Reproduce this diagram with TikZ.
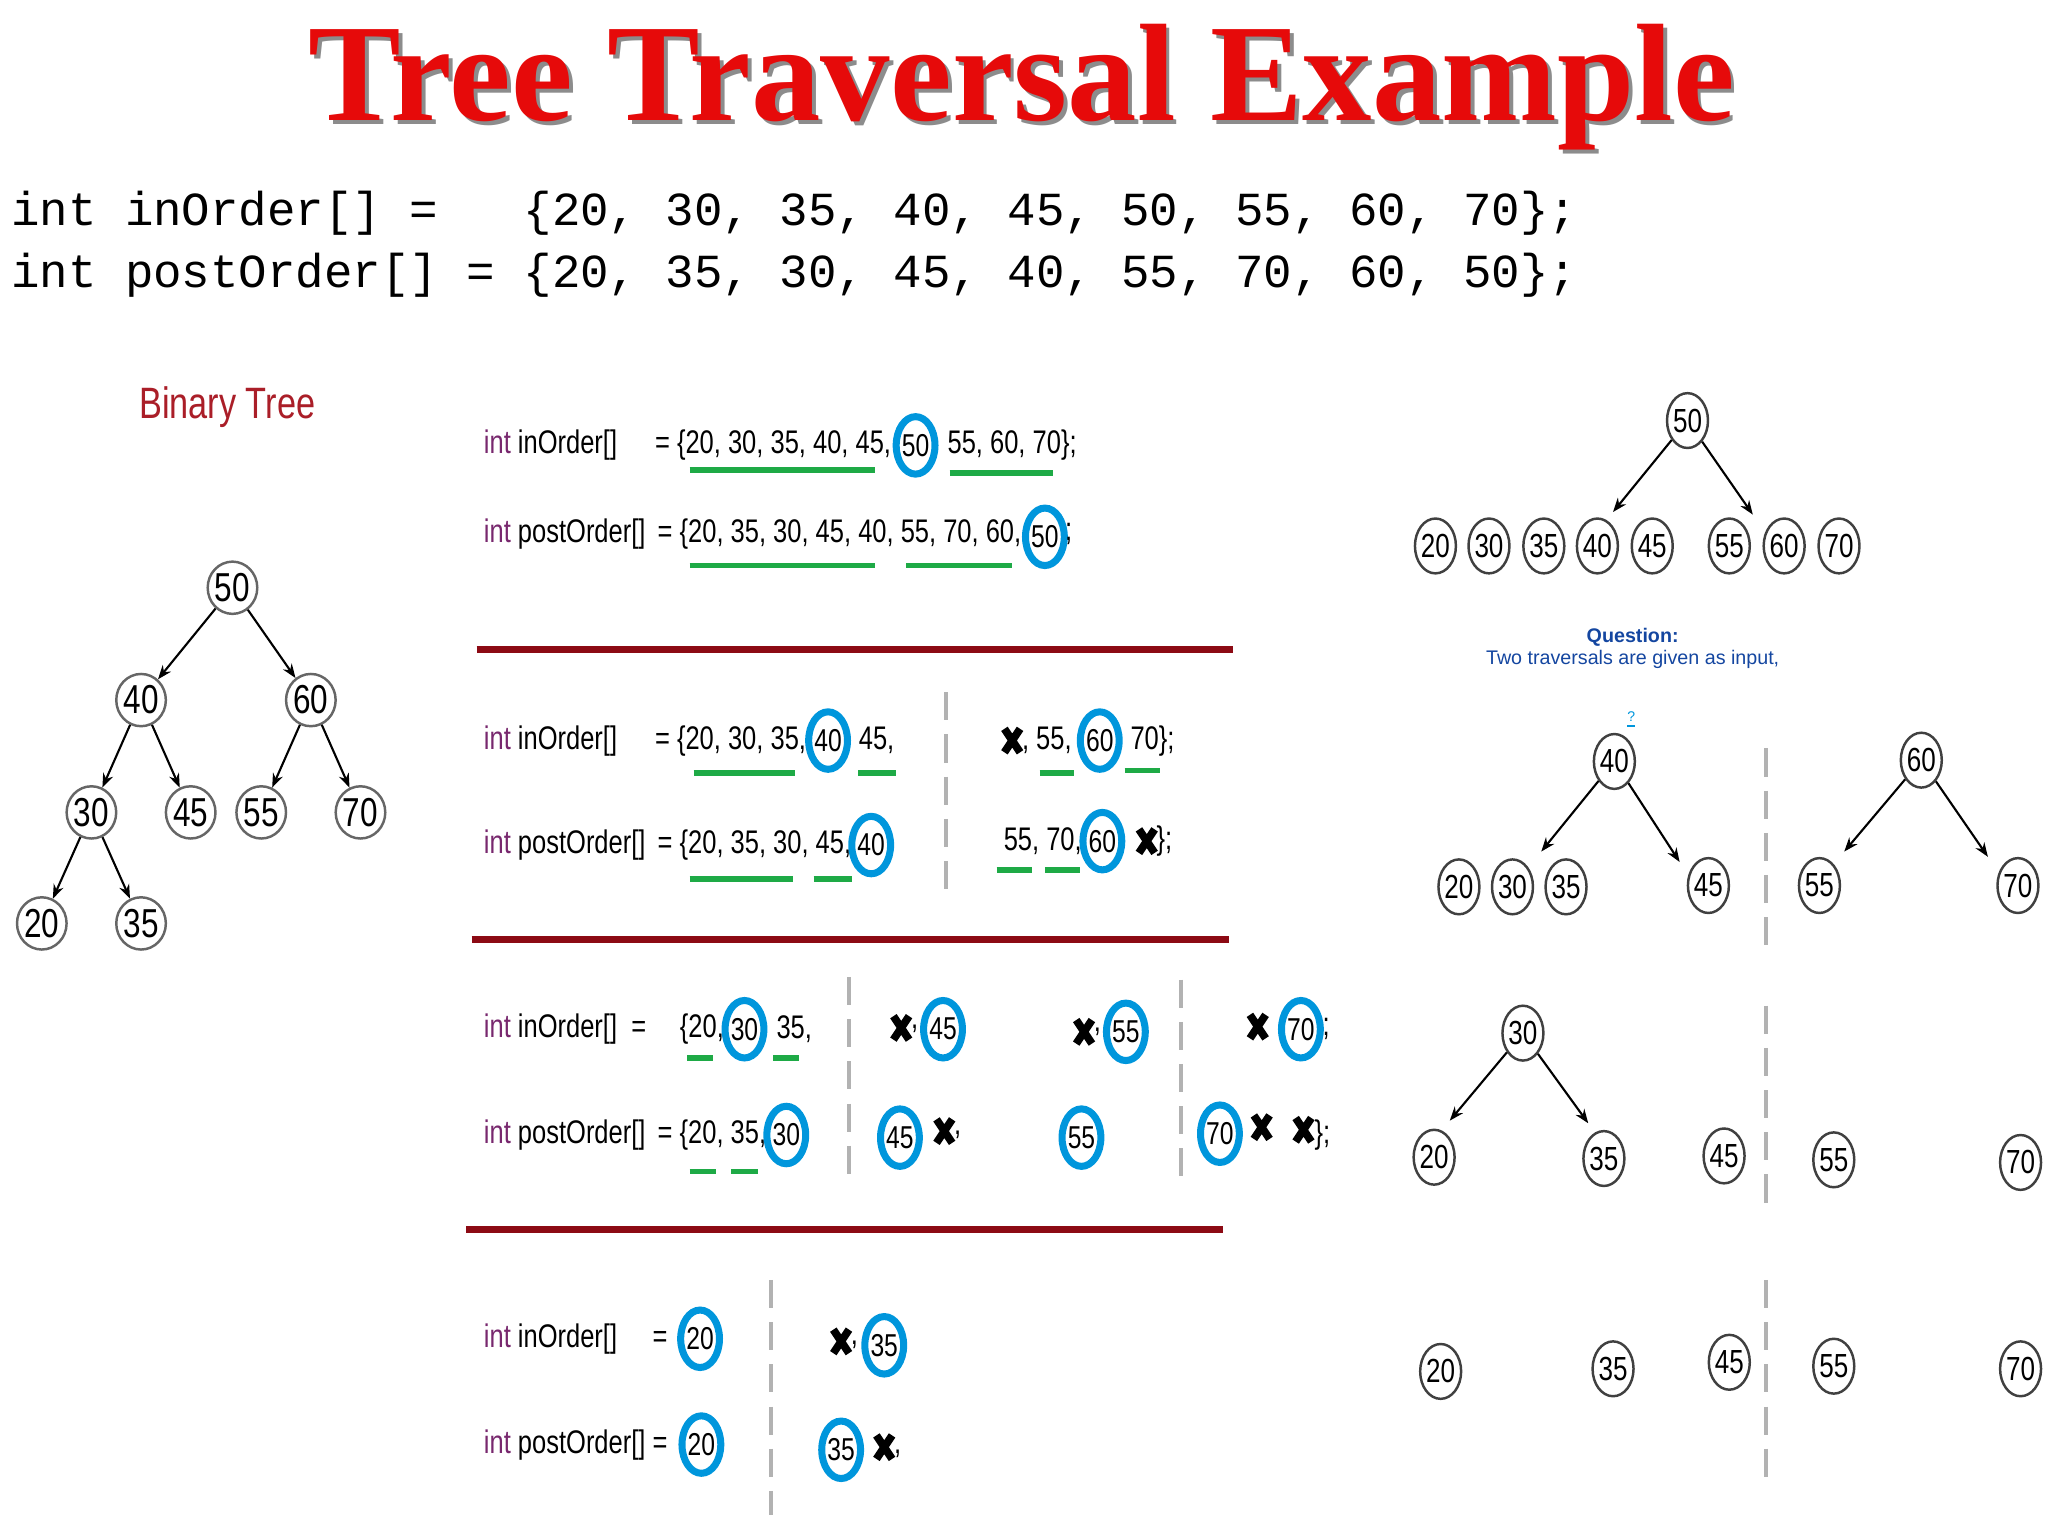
\documentclass[tikz,border=0pt]{standalone}
\usepackage{fontspec}
\setmainfont{Liberation Serif}
\newfontfamily\cond[FakeStretch=0.78]{Liberation Sans}
\newfontfamily\monof{Liberation Mono}
\newfontfamily\sansf{Liberation Sans}
\usetikzlibrary{arrows.meta,shapes.geometric}
\definecolor{ttred}{RGB}{230,10,10}
\definecolor{intc}{RGB}{120,40,110}
\definecolor{ulg}{RGB}{30,170,70}
\definecolor{bcirc}{RGB}{0,150,220}
\definecolor{sepred}{RGB}{140,10,20}
\definecolor{qblue}{RGB}{20,70,160}
\definecolor{btred}{RGB}{170,30,40}
\tikzset{
 x=0.01306cm, y=-0.01306cm,
 tn/.style={draw=black!75, ellipse, line width=0.7pt, minimum width=30*0.01306cm, minimum height=42*0.01306cm, inner sep=0pt, font=\cond\fontsize{9.5}{10}\selectfont},
 ln/.style={tn, draw=black!60, minimum width=32*0.01306cm, minimum height=40*0.01306cm, font=\cond\fontsize{11.5}{12}\selectfont},
 bc/.style={draw=bcirc, ellipse, line width=2pt, minimum width=26*0.01306cm, minimum height=44*0.01306cm, inner sep=0pt, font=\cond\fontsize{9}{10}\selectfont},
 ct/.style={anchor=west, inner sep=0pt, font=\cond\fontsize{9.3}{10}\selectfont},
 ul/.style={draw=ulg, line width=1.6pt},
 sep/.style={draw=sepred, line width=2pt},
 dsh/.style={draw=black!30, line width=1.2pt, dash pattern=on 8pt off 4pt},
 ar/.style={-{Stealth[length=4pt]}, line width=0.6pt},
}
\newcommand\xm[2]{\draw[line width=2.2pt] ({#1-6},{#2-9})--({#1+6},{#2+9}) ({#1+6},{#2-9})--({#1-6},{#2+9});}
\newcommand\intin{{\color{intc}int} inOrder[]}
\newcommand\intpo{{\color{intc}int} postOrder[]}
\begin{document}
\begin{tikzpicture}
\useasboundingbox (0,0) rectangle (1568,1176);
% title
\node[text=black!45, font=\bfseries\fontsize{39.5}{42}\selectfont] at (785,70) {Tree Traversal Example};
\node[text=ttred, font=\bfseries\fontsize{39.5}{42}\selectfont] (title) at (782,67) {Tree Traversal Example};
\node[anchor=west, inner sep=0pt, font=\monof\fontsize{13.5}{16}\selectfont] (c1) at (8,163) {int inOrder[] =\ \ \ \{20, 30, 35, 40, 45, 50, 55, 60, 70\};};
\node[anchor=west, inner sep=0pt, font=\monof\fontsize{13.5}{16}\selectfont] (c2) at (8,211) {int postOrder[] = \{20, 35, 30, 45, 40, 55, 70, 60, 50\};};
% left binary tree
\node[text=btred, font=\cond\fontsize{12.5}{13}\selectfont] (bt) at (174,312) {Binary Tree};
\node[ln] (l50) at (178,450) {50};
\node[ln] (l40) at (108,536) {40};
\node[ln] (l60) at (238,536) {60};
\node[ln] (l30) at (70,622) {30};
\node[ln] (l45) at (146,622) {45};
\node[ln] (l55) at (200,622) {55};
\node[ln] (l70) at (276,622) {70};
\node[ln] (l20) at (32,707) {20};
\node[ln] (l35) at (108,707) {35};
\foreach \a/\b in {l50/l40,l50/l60,l40/l30,l40/l45,l60/l55,l60/l70,l30/l20,l30/l35}
  \draw[ar] (\a) -- (\b);
% section 1
\node[ct] (r1a) at (370,341) {\intin};
\node[ct] (r1b) at (501,341) {= \{20, 30, 35, 40, 45,};
\node[bc] (r1c) at (701,341) {50};
\node[ct] (r1d) at (725,341) {55, 60, 70\};};
\draw[ul] (528,360)--(670,360); \draw[ul] (727,362)--(806,362);
\node[ct] (r2a) at (370,409) {\intpo};
\node[ct] (r2b) at (503,409) {= \{20, 35, 30, 45, 40, 55, 70, 60,};
\node[bc] (r2c) at (800,411) {50};
\node[ct] (r2d) at (815,409) {;};
\draw[ul] (528,433)--(670,433); \draw[ul] (694,433)--(775,433);
\draw[sep] (365,497)--(944,497);
% section 2
\node[ct] (s1a) at (370,567) {\intin};
\node[ct] (s1b) at (501,567) {= \{20, 30, 35,};
\node[bc] (s1c) at (634,567) {40};
\node[ct] (s1d) at (657,567) {45,};
\draw[ul] (531,592)--(609,592); \draw[ul] (657,592)--(686,592);
\draw[dsh] (724,530)--(724,690);
\xm{775}{567}
\node[ct] (s1e) at (782,567) {, 55,};
\node[bc] (s1f) at (842,567) {60};
\node[ct] (s1g) at (865,567) {70\};};
\draw[ul] (796,592)--(822,592); \draw[ul] (861,590)--(888,590);
\node[ct] (s2a) at (370,647) {\intpo};
\node[ct] (s2b) at (503,647) {= \{20, 35, 30, 45,};
\node[bc] (s2c) at (667,647) {40};
\draw[ul] (528,673)--(607,673); \draw[ul] (623,673)--(652,673);
\node[ct] (s2d) at (768,644) {55, 70,};
\node[bc] (s2e) at (844,644) {60};
\xm{878}{644}
\node[ct] (s2f) at (885,644) {\};};
\draw[ul] (763,666)--(790,666); \draw[ul] (800,666)--(827,666);
\draw[sep] (361,719)--(941,719);
% section 3
\node[ct] (t1a) at (370,788) {\intin\ \ =};
\node[ct] (t1b) at (520,788) {\{20,};
\node[bc] (t1c) at (570,788) {30};
\node[ct] (t1d) at (594,788) {35,};
\draw[ul] (526,810)--(546,810); \draw[ul] (592,810)--(612,810);
\draw[dsh] (650,748)--(650,905);
\xm{690}{787}\node[ct] at (697,788) {,};
\node[bc] (t1e) at (722,788) {45};
\xm{830}{790}\node[ct] at (837,790) {,};
\node[bc] (t1f) at (862,790) {55};
\draw[dsh] (904,750)--(904,900);
\xm{963}{786}
\node[bc] (t1g) at (996,788) {70};
\node[ct] at (1012,788) {;};
\node[ct] (t2a) at (370,869) {\intpo};
\node[ct] (t2b) at (503,869) {= \{20, 35,};
\node[bc] (t2c) at (602,869) {30};
\draw[ul] (528,897)--(548,897); \draw[ul] (560,897)--(580,897);
\node[bc] (t2d) at (689,871) {45};
\xm{723}{866}\node[ct] at (730,869) {,};
\node[bc] (t2e) at (828,871) {55};
\node[bc] (t2f) at (934,868) {70};
\xm{966}{863}
\xm{998}{865}
\node[ct] at (1006,869) {\};};
\draw[sep] (357,941)--(936,941);
% section 4
\node[ct] (u1a) at (370,1025) {\intin\ \ \ \ \ =};
\node[bc] (u1b) at (536,1025) {20};
\draw[dsh] (590,980)--(590,1160);
\xm{644}{1027}\node[ct] at (651,1030) {,};
\node[bc] (u1c) at (677,1030) {35};
\node[ct] (u2a) at (370,1106) {\intpo\ =};
\node[bc] (u2b) at (537,1106) {20};
\node[bc] (u2c) at (644,1110) {35};
\xm{677}{1108}\node[ct] at (684,1113) {,};
% right top tree
\node[tn] (a50) at (1292,322) {50};
\foreach \v/\xx in {20/1099,30/1140,35/1182,40/1223,45/1265,55/1324,60/1366,70/1408}
  \node[tn] (a\v) at (\xx,418) {\v};
\draw[ar] (a50) -- (1235,392);
\draw[ar] (a50) -- (1342,394);
\node[font=\sansf\bfseries\fontsize{5.6}{7}\selectfont, text=qblue] (q1) at (1250,488) {Question:};
\node[font=\sansf\fontsize{5.6}{7}\selectfont, text=qblue] (q2) at (1250,505) {Two traversals are given as input,};
\node[font=\sansf\fontsize{4}{4}\selectfont, text=bcirc] (q3) at (1249,551) {\underline{?}};
% tree 40
\node[tn] (b40) at (1236,583) {40};
\foreach \v/\xx in {20/1117,30/1158,35/1199}
  \node[tn] (b\v) at (\xx,679) {\v};
\node[tn] (b45) at (1308,678) {45};
\draw[ar] (b40) -- (1180,652);
\draw[ar] (b40) -- (1286,660);
\draw[dsh] (1352,573)--(1352,730);
\node[tn] (c60) at (1471,582) {60};
\node[tn] (c55) at (1393,678) {55};
\node[tn] (c70) at (1545,678) {70};
\draw[ar] (c60) -- (1412,652);
\draw[ar] (c60) -- (1522,656);
% tree 30
\node[tn] (d30) at (1166,791) {30};
\node[tn] (d20) at (1098,886) {20};
\node[tn] (d35) at (1228,887) {35};
\node[tn] (d45) at (1320,885) {45};
\node[tn] (d55) at (1404,888) {55};
\node[tn] (d70) at (1547,890) {70};
\draw[ar] (d30) -- (1110,858);
\draw[ar] (d30) -- (1216,860);
\draw[dsh] (1352,770)--(1352,930);
% bottom row
\node[tn] (e20) at (1103,1050) {20};
\node[tn] (e35) at (1235,1048) {35};
\node[tn] (e45) at (1324,1043) {45};
\node[tn] (e55) at (1404,1046) {55};
\node[tn] (e70) at (1547,1048) {70};
\draw[dsh] (1352,980)--(1352,1140);
\end{tikzpicture}
\end{document}
